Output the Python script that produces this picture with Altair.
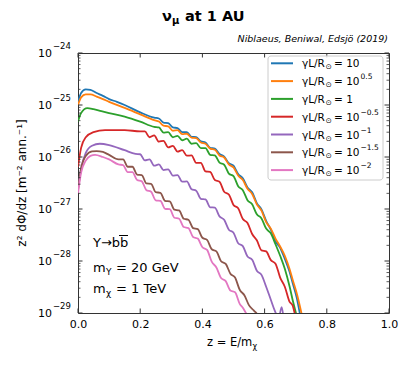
import altair as alt
import pandas as pd

# ---------------- data ----------------
series_names = ["γL/R⊙ = 10", "γL/R⊙ = 10^0.5", "γL/R⊙ = 1", "γL/R⊙ = 10^-0.5",
                "γL/R⊙ = 10^-1", "γL/R⊙ = 10^-1.5", "γL/R⊙ = 10^-2"]
legend_base = ["10", "10", "1", "10", "10", "10", "10"]
legend_exp = ["", "0.5", "", "−0.5", "−1", "−1.5", "−2"]
colors = ["#1f77b4", "#ff7f0e", "#2ca02c", "#d62728", "#9467bd", "#8c564b", "#e377c2"]

blue_z = [0.0, 0.01, 0.025, 0.04, 0.06, 0.08, 0.1, 0.125, 0.15, 0.2, 0.245,
          0.26, 0.275, 0.29, 0.305, 0.32, 0.335, 0.35, 0.365, 0.38, 0.395, 0.41, 0.425,
          0.44, 0.455, 0.47, 0.485, 0.5, 0.515, 0.53, 0.545, 0.56, 0.575, 0.59, 0.605, 0.62,
          0.635, 0.65, 0.665, 0.68, 0.69, 0.703, 0.716]
blue_v = [1.15e-25, 1.7e-25, 2.0e-25, 1.95e-25, 1.7e-25, 1.5e-25, 1.3e-25, 1.15e-25, 1.0e-25,
          7.2e-26, 5.7e-26,
          5.5e-26, 4.6e-26, 4.5e-26, 3.7e-26, 3.6e-26, 3.0e-26, 3.0e-26, 2.45e-26, 2.4e-26,
          2.0e-26, 1.9e-26, 1.5e-26, 1.45e-26, 1.15e-26, 1.02e-26, 7.6e-27, 6.8e-27, 4.7e-27,
          3.9e-27, 2.6e-27, 2.1e-27, 1.3e-27, 9.8e-28, 5.9e-28, 4.0e-28,
          2.4e-28, 1.8e-28, 1.1e-28, 6.3e-29, 3.8e-29, 2.0e-29, 8e-30]

orange_z = [0.0, 0.01, 0.025, 0.04, 0.06, 0.08, 0.1, 0.15, 0.2, 0.245,
            0.26, 0.275, 0.29, 0.305, 0.32, 0.335, 0.35, 0.365, 0.38, 0.395, 0.41, 0.425,
            0.44, 0.455, 0.47, 0.485, 0.5, 0.515, 0.53, 0.545, 0.56, 0.575, 0.59, 0.605, 0.62,
            0.635, 0.65, 0.665, 0.68, 0.69, 0.705, 0.722]
orange_v = [1.0e-25, 1.4e-25, 1.6e-25, 1.6e-25, 1.45e-25, 1.3e-25, 1.15e-25, 8.8e-26, 6.6e-26,
            5.1e-26,
            4.8e-26, 4.0e-26, 3.9e-26, 3.2e-26, 3.3e-26, 2.75e-26, 2.8e-26, 2.35e-26, 2.3e-26,
            1.9e-26, 1.8e-26, 1.45e-26, 1.38e-26, 1.07e-26, 9.8e-27, 7.2e-27, 6.3e-27, 4.4e-27,
            3.6e-27, 2.45e-27, 1.95e-27, 1.23e-27, 9.3e-28, 5.6e-28, 4.2e-28,
            2.7e-28, 1.9e-28, 1.26e-28, 7.1e-29, 4.4e-29, 2.2e-29, 8e-30]

green_z = [0.0, 0.01, 0.03, 0.05, 0.075, 0.1, 0.15, 0.2, 0.245,
           0.26, 0.275, 0.29, 0.305, 0.32, 0.335, 0.35, 0.365, 0.38, 0.395, 0.41, 0.425,
           0.44, 0.455, 0.47, 0.485, 0.5, 0.515, 0.53, 0.545, 0.56, 0.575, 0.59, 0.605, 0.62,
           0.635, 0.65, 0.665, 0.68, 0.69, 0.705]
green_v = [4.8e-26, 7.0e-26, 8.7e-26, 8.3e-26, 7.6e-26, 7.0e-26, 6.0e-26, 4.8e-26, 3.8e-26,
           3.7e-26, 2.95e-26, 3.0e-26, 2.4e-26, 2.55e-26, 2.1e-26, 2.25e-26, 1.8e-26, 1.85e-26,
           1.48e-26, 1.48e-26, 1.1e-26, 1.07e-26, 7.8e-27, 7.1e-27, 4.8e-27, 4.3e-27, 2.75e-27,
           2.3e-27, 1.48e-27, 1.23e-27, 7.9e-28, 6.6e-28, 4.2e-28, 3.4e-28,
           2.1e-28, 1.26e-28, 7.1e-29, 3.3e-29, 1.8e-29, 8e-30]

red_z = [0.0, 0.01, 0.025, 0.05, 0.087, 0.12, 0.15, 0.2,
         0.215, 0.23, 0.245, 0.26, 0.275, 0.29, 0.305, 0.32, 0.335, 0.35, 0.365, 0.38, 0.395,
         0.41, 0.425, 0.44, 0.455, 0.47, 0.485, 0.5, 0.515, 0.53, 0.545, 0.56, 0.575, 0.59,
         0.605, 0.62, 0.635, 0.65, 0.665, 0.68, 0.69, 0.70]
red_v = [6.5e-27, 1.5e-26, 2.4e-26, 3.0e-26, 3.3e-26, 3.3e-26, 3.3e-26, 3.1e-26,
         3.1e-26, 2.4e-26, 2.6e-26, 1.97e-26, 2.05e-26, 1.53e-26, 1.64e-26, 1.27e-26, 1.36e-26,
         1.06e-26, 1.07e-26, 7.7e-27, 7.7e-27, 5.3e-27, 5.2e-27, 3.6e-27, 3.35e-27, 2.15e-27,
         1.9e-27, 1.2e-27, 1.03e-27, 6.4e-28, 5.4e-28, 3.3e-28, 2.5e-28, 1.6e-28, 1.53e-28,
         1.04e-28, 8.9e-29, 4.8e-29, 3.2e-29, 1.66e-29, 1.4e-29, 8e-30]

purple_z = [0.0, 0.01, 0.025, 0.045, 0.07, 0.1, 0.15, 0.185,
            0.2, 0.215, 0.23, 0.245, 0.26, 0.275, 0.29, 0.305, 0.32, 0.335, 0.35, 0.365,
            0.38, 0.395, 0.41, 0.425, 0.44, 0.455, 0.47, 0.485, 0.5, 0.515, 0.53, 0.545,
            0.56, 0.575, 0.59, 0.605, 0.62, 0.633, 0.645, 0.655, 0.662]
purple_v = [2.5e-27, 6e-27, 1.2e-26, 1.65e-26, 1.8e-26, 1.7e-26, 1.35e-26, 1.15e-26,
            1.13e-26, 8.6e-27, 9.0e-27, 6.8e-27, 7.2e-27, 5.6e-27, 5.8e-27, 4.4e-27, 4.5e-27,
            3.35e-27, 3.4e-27, 2.4e-27, 2.25e-27, 1.57e-27, 1.53e-27, 1.08e-27, 1.06e-27,
            7.2e-28, 6.2e-28, 4.0e-28, 3.5e-28, 2.2e-28, 1.93e-28, 1.22e-28, 1.06e-28,
            6.5e-29, 5.4e-29, 3.2e-29, 1.8e-29, 1.1e-29, 8e-30, 1.3e-29, 7e-30]

brown_z = [0.0, 0.01, 0.025, 0.045, 0.06, 0.08, 0.1, 0.13,
           0.145, 0.16, 0.175, 0.19, 0.205, 0.22, 0.235, 0.25, 0.265, 0.28, 0.295, 0.31,
           0.325, 0.34, 0.355, 0.37, 0.385, 0.4, 0.415, 0.43, 0.445, 0.46, 0.475, 0.49,
           0.505, 0.52, 0.535, 0.55, 0.565, 0.58, 0.59]
brown_v = [2.3e-27, 6e-27, 1.05e-26, 1.28e-26, 1.3e-26, 1.25e-26, 1.1e-26, 9.0e-27,
           9.0e-27, 6.5e-27, 6.5e-27, 4.6e-27, 4.5e-27, 3.1e-27, 3.05e-27, 2.1e-27, 2.05e-27,
           1.43e-27, 1.4e-27, 9.7e-28, 9.4e-28, 6.5e-28, 6.2e-28, 4.3e-28, 4.1e-28, 2.8e-28,
           2.55e-28, 1.68e-28, 1.53e-28, 9.9e-29, 8.8e-29, 5.7e-29, 4.8e-29, 2.8e-29, 2.2e-29,
           1.4e-29, 1.12e-29, 8.9e-30, 7e-30]

pink_z = [0.0, 0.01, 0.025, 0.04, 0.055, 0.08, 0.1, 0.13,
          0.145, 0.16, 0.175, 0.19, 0.205, 0.22, 0.235, 0.25, 0.265, 0.28, 0.295, 0.31,
          0.325, 0.34, 0.355, 0.37, 0.385, 0.4, 0.415, 0.43, 0.445, 0.46, 0.475, 0.49,
          0.505, 0.52, 0.53, 0.54, 0.55]
pink_v = [2.0e-27, 5e-27, 8.5e-27, 1.05e-26, 1.1e-26, 1.0e-26, 9.0e-27, 7.2e-27,
          7.0e-27, 5.1e-27, 5.1e-27, 3.6e-27, 3.4e-27, 2.3e-27, 2.15e-27, 1.46e-27, 1.43e-27,
          1.01e-27, 9.9e-28, 6.8e-28, 6.5e-28, 4.5e-28, 4.3e-28, 2.9e-28, 2.7e-28, 1.84e-28,
          1.64e-28, 9.7e-29, 7.5e-29, 4.7e-29, 4.1e-29, 2.7e-29, 2.5e-29, 1.5e-29, 1.26e-29,
          1.0e-29, 8e-30]

x_ticks = [0.0, 0.2, 0.4, 0.6, 0.8, 1.0]
y_major = [1e-29, 1e-28, 1e-27, 1e-26, 1e-25, 1e-24]
y_exp_labels = ["−29", "−28", "−27", "−26", "−25", "−24"]

title_main = "ν"
title_sub = "μ"
title_rest = "at 1 AU"
author = "Niblaeus, Beniwal, Edsjö (2019)"
y_title = "z² dΦ/dz [m⁻² ann.⁻¹]"

# ---------------- layout ----------------
W, H = 311, 260
PAD = {"left": 70, "top": 45, "right": 16, "bottom": 46}
FRAME = "#333333"
FONT = "DejaVu Sans"

xscale = alt.Scale(domain=[0, 1], nice=False, zero=False)
yscale = alt.Scale(type="log", domain=[1e-29, 1e-24], nice=False)
xaxis = alt.Axis(values=x_ticks, format=".1f", labelFontSize=11, labelFont=FONT,
                 labelColor="black", tickSize=0, domain=False, grid=False,
                 labelPadding=5, labelFlush=False, title=None)
xenc = alt.X("z:Q", scale=xscale, axis=xaxis)
yenc = alt.Y("v:Q", scale=yscale, axis=None)

one = pd.DataFrame({"a": [0]})


def txt(text, x, y, size, align="left", dy=0, weight="normal", style="normal", angle=0,
        baseline="alphabetic"):
    kw = dict(text=text, fontSize=size, align=align, baseline=baseline, font=FONT,
              fontWeight=weight, fontStyle=style, color="black")
    if dy:
        kw["dy"] = dy
    if angle:
        kw["angle"] = angle
    return alt.Chart(one).mark_text(**kw).encode(x=alt.value(x), y=alt.value(y))


layers = []

# curves
all_z = [blue_z, orange_z, green_z, red_z, purple_z, brown_z, pink_z]
all_v = [blue_v, orange_v, green_v, red_v, purple_v, brown_v, pink_v]
for i in range(7):
    df = pd.DataFrame({"z": all_z[i], "v": all_v[i]})
    layers.append(
        alt.Chart(df).mark_line(clip=True, strokeWidth=1.8, color=colors[i],
                                interpolate="monotone").encode(x=xenc, y=yenc)
    )

# ticks (inward)
xt = pd.DataFrame({"z": x_ticks})
layers.append(alt.Chart(xt).mark_rule(color=FRAME, strokeWidth=1).encode(
    x=xenc, y=alt.value(H - 4.5), y2=alt.value(H)))
layers.append(alt.Chart(xt).mark_rule(color=FRAME, strokeWidth=1).encode(
    x=xenc, y=alt.value(0), y2=alt.value(4.5)))
ym = pd.DataFrame({"v": y_major})
layers.append(alt.Chart(ym).mark_rule(color=FRAME, strokeWidth=1).encode(
    y=yenc, x=alt.value(0), x2=alt.value(4.5)))
layers.append(alt.Chart(ym).mark_rule(color=FRAME, strokeWidth=1).encode(
    y=yenc, x=alt.value(W - 4.5), x2=alt.value(W)))
minor_vals = [k * d for d in y_major[:-1] for k in range(2, 10)]
yn = pd.DataFrame({"v": minor_vals})
layers.append(alt.Chart(yn).mark_rule(color=FRAME, strokeWidth=0.8).encode(
    y=yenc, x=alt.value(0), x2=alt.value(2.5)))
layers.append(alt.Chart(yn).mark_rule(color=FRAME, strokeWidth=0.8).encode(
    y=yenc, x=alt.value(W - 2.5), x2=alt.value(W)))

# y tick labels 10^n
ylab = pd.DataFrame({"v": y_major, "e": y_exp_labels})
layers.append(alt.Chart(ylab).mark_text(text="10", fontSize=11, font=FONT, align="right",
                                        baseline="alphabetic", dy=3.5, color="black").encode(
    y=yenc, x=alt.value(-26)))
layers.append(alt.Chart(ylab).mark_text(fontSize=8.5, font=FONT, align="left",
                                        baseline="alphabetic", dy=-4.5, color="black").encode(
    y=yenc, x=alt.value(-25), text="e:N"))

# legend
LX0, LX1, LY0, LY1 = 190, 305, 3, 127
layers.append(alt.Chart(one).mark_rect(fill="white", fillOpacity=0.8, stroke="#cccccc",
                                       strokeWidth=1, cornerRadius=3).encode(
    x=alt.value(LX0), x2=alt.value(LX1), y=alt.value(LY0), y2=alt.value(LY1)))
for i in range(7):
    ry = 10.3 + 17.8 * i
    layers.append(alt.Chart(one).mark_rule(color=colors[i], strokeWidth=2).encode(
        x=alt.value(193), x2=alt.value(215), y=alt.value(ry)))
    layers.append(txt("γL/R", 224, ry + 4, 10.5))
    layers.append(txt("⊙", 247.5, ry + 6, 7.5))
    layers.append(txt("= " + legend_base[i], 256, ry + 4, 10.5))
    if legend_exp[i]:
        layers.append(txt(legend_exp[i], 282.5, ry - 2, 7.5))

# annotations
layers.append(txt("Υ→bb", 15, 194, 13))
layers.append(alt.Chart(one).mark_rule(color="black", strokeWidth=1).encode(
    x=alt.value(41), x2=alt.value(50), y=alt.value(182.5)))
layers.append(txt("m", 15, 219, 13))
layers.append(txt("Υ", 28, 222, 9))
layers.append(txt("= 20 GeV", 38, 219, 13))
layers.append(txt("m", 15, 240, 13))
layers.append(txt("χ", 28, 243, 9))
layers.append(txt("= 1 TeV", 38, 240, 13))

# titles
layers.append(txt(title_main, 84, -32.5, 14.5, weight="bold"))
layers.append(txt(title_sub, 94, -29, 10, weight="bold"))
layers.append(txt(title_rest, 107, -32.5, 14.5, weight="bold"))
layers.append(txt(author, 310, -11, 9.5, align="right", style="italic"))
layers.append(txt("z = E/m", 129, 293, 11.5))
layers.append(txt("χ", 174.5, 296, 8))
layers.append(txt(y_title, -56, 130, 12, align="center", angle=270, baseline="middle"))

chart = alt.layer(*layers).properties(
    width=W, height=H, padding=PAD, autosize=alt.AutoSizeParams(type="none")
).configure_view(stroke=FRAME, strokeWidth=1)

chart.save("out.html", embed_options={"renderer": "svg", "actions": False})
